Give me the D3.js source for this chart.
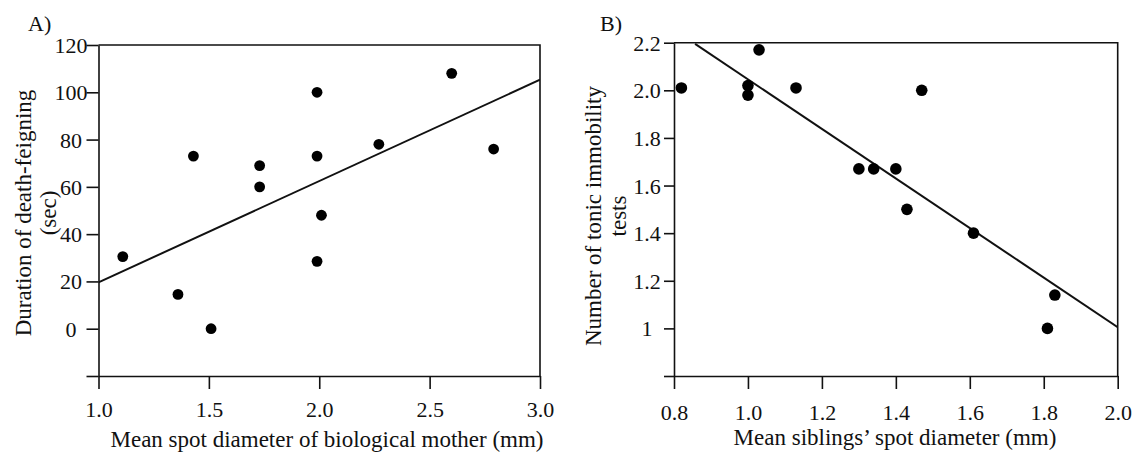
<!DOCTYPE html>
<html>
<head>
<meta charset="utf-8">
<script src="https://cdn.jsdelivr.net/npm/d3@7"></script>
<style>
  html, body { margin: 0; padding: 0; background: #fff; }
  svg { display: block; }
  svg text { font-family: "Liberation Serif", "Times New Roman", serif !important; fill: #111; }
</style>
</head>
<body>
<svg id="chart" width="1145" height="454"></svg>
<script>
// ---------- Panel A data ----------
const motherSpot = [1.11, 1.36, 1.43, 1.51, 1.73, 1.73, 1.99, 1.99, 1.99, 2.01, 2.27, 2.60, 2.79];
const deathFeigning = [30.5, 14.5, 73, 0, 69, 60, 100, 73, 28.5, 48, 78, 108, 76];
const fitA_x = [1.0, 3.0];
const fitA_y = [19.6, 105.3];
const xTicksA = [1.0, 1.5, 2.0, 2.5, 3.0];
const yTicksA = [-20, 0, 20, 40, 60, 80, 100, 120];
const yTickLabelsA = ["", "0", "20", "40", "60", "80", "100", "120"];

// ---------- Panel B data ----------
const siblingSpot = [0.82, 1.00, 1.00, 1.03, 1.13, 1.30, 1.34, 1.40, 1.43, 1.47, 1.61, 1.81, 1.83];
const tonicTests = [2.01, 2.02, 1.98, 2.17, 2.01, 1.67, 1.67, 1.67, 1.50, 2.00, 1.40, 1.00, 1.14];
const fitB_x = [0.857, 2.0];
const fitB_y = [2.195, 1.005];
const xTicksB = [0.8, 1.0, 1.2, 1.4, 1.6, 1.8, 2.0];
const yTicksB = [0.8, 1.0, 1.2, 1.4, 1.6, 1.8, 2.0, 2.2];
const yTickLabelsB = ["", "1", "1.2", "1.4", "1.6", "1.8", "2.0", "2.2"];

const svg = d3.select("#chart");
const FS = 22;
const SERIF = '"Liberation Serif", "Times New Roman", serif';

function panel(cfg) {
  const g = svg.append("g");
  const x = d3.scaleLinear().domain(cfg.xDomain).range(cfg.xRange);
  const y = d3.scaleLinear().domain(cfg.yDomain).range(cfg.yRange);

  // frame (top & right)
  g.append("path")
    .attr("d", `M${x.range()[0]},${y.range()[1]}H${x.range()[1]}V${y.range()[0]}`)
    .attr("fill", "none").attr("stroke", "#111").attr("stroke-width", 1.6);

  // y axis
  const yAx = g.append("g")
    .attr("transform", `translate(${x.range()[0]},0)`)
    .call(d3.axisLeft(y).tickValues(cfg.yTicks).tickSize(cfg.yTickLen).tickSizeOuter(0)
      .tickFormat((d, i) => cfg.yLabels[i]));
  yAx.selectAll("text")
    .attr("x", cfg.yLabelX - x.range()[0])
    .attr("dy", "0.34em")
    .attr("text-anchor", "middle");

  // x axis
  const xAx = g.append("g")
    .attr("transform", `translate(0,${y.range()[0]})`)
    .call(d3.axisBottom(x).tickValues(cfg.xTicks).tickSize(13).tickSizeOuter(0)
      .tickFormat(d3.format(".1f")));
  xAx.selectAll("text")
    .attr("y", cfg.xLabelY - y.range()[0])
    .attr("dy", null);

  [yAx, xAx].forEach(a => {
    a.attr("font-family", SERIF).attr("font-size", FS);
    a.selectAll("text").attr("fill", "#111");
    a.selectAll("path, line").attr("stroke", "#111").attr("stroke-width", 1.6);
  });

  // regression line
  const clipId = "clip" + cfg.id;
  g.append("clipPath").attr("id", clipId).append("rect")
    .attr("x", x.range()[0]).attr("y", y.range()[1])
    .attr("width", x.range()[1] - x.range()[0]).attr("height", y.range()[0] - y.range()[1]);
  g.append("path")
    .datum(cfg.fitX.map((v, i) => [v, cfg.fitY[i]]))
    .attr("clip-path", `url(#${clipId})`)
    .attr("d", d3.line().x(d => x(d[0])).y(d => y(d[1])))
    .attr("fill", "none").attr("stroke", "#111").attr("stroke-width", 2);

  // points
  g.selectAll("circle.pt")
    .data(cfg.xs.map((v, i) => [v, cfg.ys[i]]))
    .join("circle")
    .attr("class", "pt")
    .attr("cx", d => x(d[0])).attr("cy", d => y(d[1]))
    .attr("r", cfg.r).attr("fill", "#000");

  // x title
  g.append("text")
    .attr("x", cfg.xTitleX).attr("y", cfg.xTitleY)
    .attr("text-anchor", "middle")
    .attr("font-family", SERIF)
    .attr("font-size", 23)
    .text(cfg.xTitle);

  // y title (two lines, rotated)
  const yt = g.append("text")
    .attr("transform", `translate(${cfg.yTitleX},${cfg.yTitleY}) rotate(-90)`)
    .attr("text-anchor", "middle")
    .attr("font-family", SERIF)
    .attr("font-size", 23);
  yt.append("tspan").attr("x", 0).attr("y", 0).text(cfg.yTitle[0]);
  yt.append("tspan").attr("x", 0).attr("y", 25).text(cfg.yTitle[1]);

  // panel label
  g.append("text")
    .attr("x", cfg.labelX).attr("y", 31)
    .attr("font-family", SERIF)
    .attr("font-size", 22)
    .text(cfg.label);
}

panel({
  id: "A",
  xDomain: [1, 3], xRange: [98.5, 540],
  yDomain: [-20, 120], yRange: [376, 45],
  xTicks: xTicksA, yTicks: yTicksA, yLabels: yTickLabelsA,
  yTickLen: 12, yLabelX: 71, xLabelY: 417,
  xs: motherSpot, ys: deathFeigning,
  fitX: fitA_x, fitY: fitA_y, r: 5.4,
  xTitle: "Mean spot diameter of biological mother (mm)", xTitleX: 327, xTitleY: 447,
  yTitle: ["Duration of death-feigning", "(sec)"], yTitleX: 31, yTitleY: 213,
  label: "A)", labelX: 28
});

panel({
  id: "B",
  xDomain: [0.8, 2.0], xRange: [674, 1117.7],
  yDomain: [0.8, 2.2], yRange: [376, 42.7],
  xTicks: xTicksB, yTicks: yTicksB, yLabels: yTickLabelsB,
  yTickLen: 10, yLabelX: 647, xLabelY: 420,
  xs: siblingSpot, ys: tonicTests,
  fitX: fitB_x, fitY: fitB_y, r: 5.8,
  xTitle: "Mean siblings\u2019 spot diameter (mm)", xTitleX: 895, xTitleY: 445,
  yTitle: ["Number of tonic immobility", "tests"], yTitleX: 601, yTitleY: 216,
  label: "B)", labelX: 600
});
</script>
</body>
</html>
